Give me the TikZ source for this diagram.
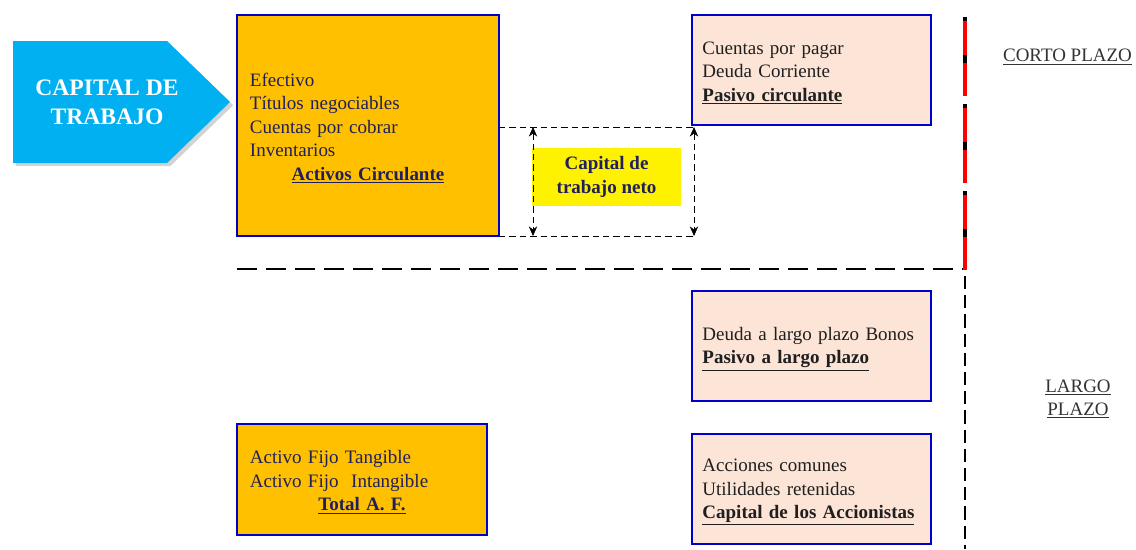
\documentclass[tikz,border=0pt]{standalone}
\usepackage{fontspec}
\setmainfont{Liberation Serif}
\usepackage{tikz}
\usepackage{xcolor}
\usetikzlibrary{shadows,arrows.meta}
\definecolor{naranja}{HTML}{FFC000}
\definecolor{durazno}{HTML}{FCE4D6}
\definecolor{borde}{HTML}{0000C8}
\definecolor{celeste}{HTML}{00B0F0}
\definecolor{marino}{HTML}{1F1F5C}
\definecolor{rojo}{HTML}{FF0000}
\tikzstyle{cuenta} = [rectangle, draw=borde, line width=1.6pt, inner sep=0pt, align=left, font=\fontsize{13.5}{16.7}\selectfont, execute at begin node=\rule{0pt}{13.5pt}]
\tikzstyle{activo} = [cuenta, fill=naranja, text=marino]
\tikzstyle{pasivo} = [cuenta, fill=durazno, text=black!88, minimum width=5.975cm, minimum height=2.75cm, text width=5.45cm]
\tikzstyle{neto} = [rectangle, fill=yellow, text=marino, align=center, minimum width=3.725cm, minimum height=1.45cm, font=\fontsize{13.5}{16.7}\selectfont\bfseries, execute at begin node=\rule{0pt}{13.5pt}]
\tikzstyle{plazo} = [text=black!80, align=center, font=\fontsize{13.5}{16.7}\selectfont]
\tikzstyle{corte} = [line width=2.1pt, dash pattern=on 0.5cm off 0.225cm]
\tikzstyle{cota} = [thin, dash pattern=on 1.6mm off 1mm]
\newcommand{\lineacentro}[1]{\makebox[\linewidth]{#1}}

\begin{document}
\begin{tikzpicture}[x=0.025cm,y=-0.025cm,>={Stealth[length=2.4mm,width=2.1mm]},semithick]
  \useasboundingbox (0,0) rectangle (1136,549);
  \fill[celeste, drop shadow={opacity=0.35}] (13,41) -- (167,41) -- (230,102) -- (167,163) -- (13,163) -- cycle;
  \node[text=white, align=center, font=\fontsize{16.8}{20.6}\selectfont\bfseries] (capital) at (107,102) {CAPITAL DE\\TRABAJO};

  \node[activo, minimum width=6.55cm, minimum height=5.525cm, text width=5.9cm] (AC) at (368,125.5) {Efectivo\\Títulos negociables\\Cuentas por cobrar\\Inventarios\\\lineacentro{\underline{\textbf{Activos Circulante}}}};
  \node[activo, minimum width=6.25cm, minimum height=2.775cm, text width=5.6cm] (AF) at (362,479.5) {Activo Fijo Tangible\\Activo Fijo\ \ Intangible\\\lineacentro{\underline{\textbf{Total A. F.}}}};
  \node[pasivo] (PC) at (811.5,70) {Cuentas por pagar\\Deuda Corriente\\\underline{\textbf{Pasivo circulante}}};
  \node[pasivo] (PL) at (811.5,346) {Deuda a largo plazo Bonos\\\underline{\textbf{Pasivo a largo plazo}}};
  \node[pasivo] (CA) at (811.5,489) {Acciones comunes\\Utilidades retenidas\\\underline{\textbf{Capital de los Accionistas}}};
  \node[neto] (CTN) at (606.5,177) {Capital de\\trabajo neto};

  \coordinate (s1) at (499,127);
  \coordinate (s2) at (694,127);
  \coordinate (i1) at (499,236);
  \coordinate (i2) at (694,236);
  \coordinate (f1) at (533,127);
  \coordinate (f2) at (533,236);
  \draw[cota] (s1) -- (s2);
  \draw[cota] (i1) -- (i2);
  \draw[cota, <->] (f1) -- (f2);
  \draw[cota, <->] (s2) -- (i2);

  \coordinate (h1) at (237,269);
  \coordinate (h2) at (963,269);
  \draw[corte] (h1) -- (h2);
  % corto plazo: rojo con trazos negros
  \foreach \y in {17,104,191} {
    \draw[rojo, line width=2.4pt] (965,\y) -- (965,\y+79);
    \draw[black, line width=2.4pt] (965,\y) -- (965,\y+4);
    \draw[black, line width=2.4pt] (965,\y+38) -- (965,\y+46);
  }
  \coordinate (v4) at (965,276);
  \coordinate (v5) at (965,549);
  \draw[line width=2.1pt, dash pattern=on 0.33cm off 0.15cm] (v4) -- (v5);

  \node[plazo] (CP) at (1067.5,57) {\underline{CORTO PLAZO}};
  \node[plazo] (LP) at (1078,399) {\underline{LARGO}\\\underline{PLAZO}};
\end{tikzpicture}
\end{document}
